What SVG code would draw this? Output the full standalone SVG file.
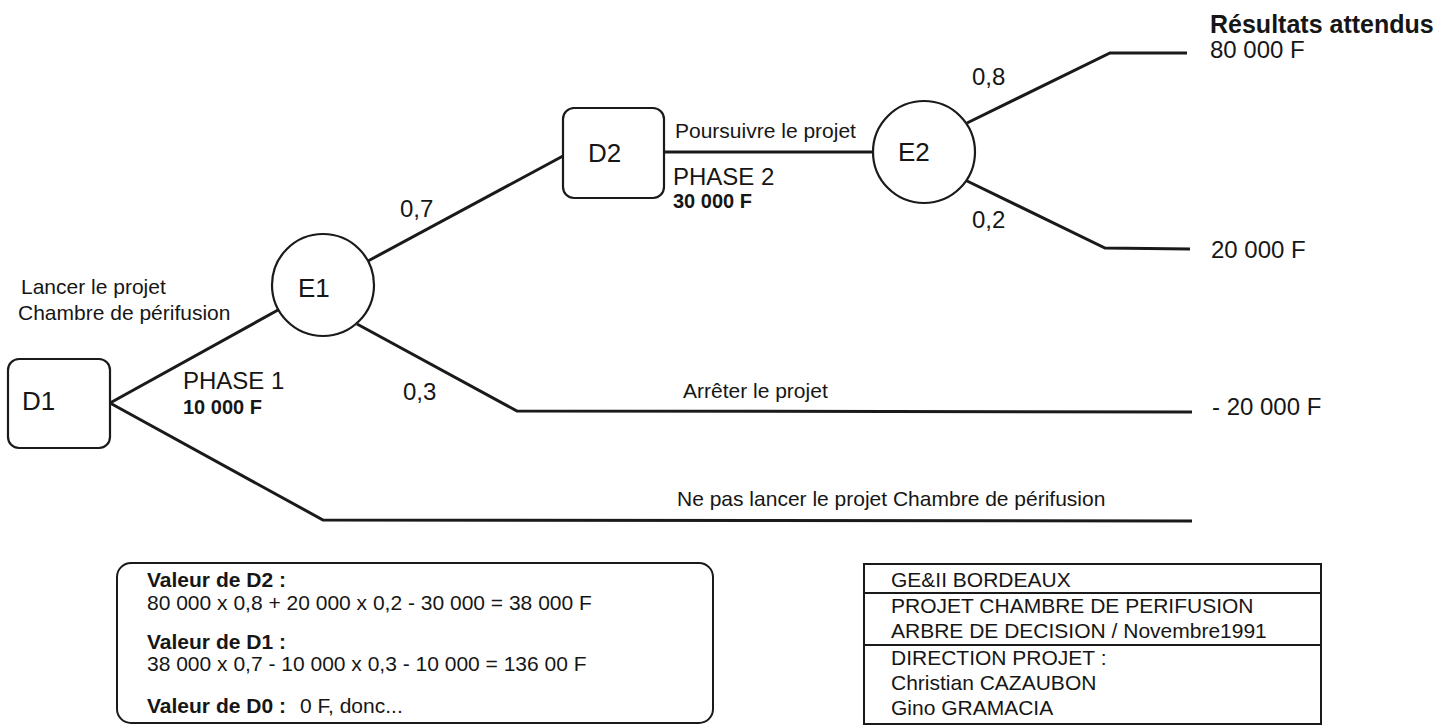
<svg xmlns="http://www.w3.org/2000/svg" width="1451" height="728" viewBox="0 0 1451 728">
<style>
text{font-family:"Liberation Sans",Arial,sans-serif;fill:#161616}
.node{fill:#fff;stroke:#1a1a1a;stroke-width:2.2}
.edge{fill:none;stroke:#1a1a1a;stroke-width:3;stroke-linejoin:miter}
.nl{font-size:26px}
.lb{font-size:21px}
.pr{font-size:24px}
.ph{font-size:24px}
.co{font-size:20px;font-weight:bold}
.b{font-weight:bold}
.box{fill:#fff;stroke:#1a1a1a;stroke-width:2}
</style>
<rect width="1451" height="728" fill="#fff"/>
<g id="connectors">
<path class="edge" d="M110,403 L278,310"/>
<path class="edge" d="M110,403 L323,520 L1192,521"/>
<path class="edge" d="M368,261 L563,156"/>
<path class="edge" d="M357,324 L517,411 L1192,412"/>
<path class="edge" d="M664,152 L873,152"/>
<path class="edge" d="M967,123 L1110,53 L1187,53"/>
<path class="edge" d="M965,180 L1105,248 L1190,249"/>
</g>
<g id="D1">
<rect class="node" x="8" y="359" width="102" height="89" rx="11"/>
<text class="nl" x="22" y="410">D1</text>
</g>
<g id="E1">
<circle class="node" cx="323" cy="285" r="51"/>
<text class="nl" x="298" y="297">E1</text>
</g>
<g id="D2">
<rect class="node" x="563" y="108" width="101" height="90" rx="11"/>
<text class="nl" x="588" y="162">D2</text>
</g>
<g id="E2">
<circle class="node" cx="924" cy="152" r="51"/>
<text class="nl" x="898" y="161">E2</text>
</g>
<g id="labels">
<text class="lb" x="21" y="294">Lancer le projet</text>
<text class="lb" x="18" y="320">Chambre de périfusion</text>
<text class="ph" x="183" y="389">PHASE 1</text>
<text class="co" x="183" y="414">10 000 F</text>
<text class="pr" x="400" y="217">0,7</text>
<text class="pr" x="403" y="400">0,3</text>
<text class="lb" x="675" y="138">Poursuivre le projet</text>
<text class="ph" x="673" y="185">PHASE 2</text>
<text class="co" x="673" y="208">30 000 F</text>
<text class="pr" x="972" y="85">0,8</text>
<text class="pr" x="972" y="228">0,2</text>
<text class="lb" x="683" y="398">Arrêter le projet</text>
<text class="lb" x="677" y="506">Ne pas lancer le projet Chambre de périfusion</text>
<text class="b" x="1210" y="33" style="font-size:25px">Résultats attendus</text>
<text class="pr" x="1210" y="58">80 000 F</text>
<text class="pr" x="1211" y="258">20 000 F</text>
<text class="pr" x="1212" y="415">- 20 000 F</text>
</g>
<g id="calcul">
<rect class="box" x="117" y="563" width="596" height="160" rx="14"/>
<text class="lb b" x="147" y="587">Valeur de D2 :</text>
<text class="lb" x="147" y="610">80 000 x 0,8 + 20 000 x 0,2 - 30 000 = 38 000 F</text>
<text class="lb b" x="147" y="649">Valeur de D1 :</text>
<text class="lb" x="147" y="671">38 000 x 0,7 - 10 000 x 0,3 - 10 000 = 136 00 F</text>
<text class="lb" x="147" y="713"><tspan class="b">Valeur de D0 :</tspan><tspan x="300">0 F, donc...</tspan></text>
</g>
<g id="cartouche">
<rect class="box" x="864" y="564" width="457" height="160"/>
<line class="box" x1="864" y1="593" x2="1321" y2="593"/>
<line class="box" x1="864" y1="645" x2="1321" y2="645"/>
<text class="lb" x="891" y="587">GE&amp;II BORDEAUX</text>
<text class="lb" x="891" y="613">PROJET CHAMBRE DE PERIFUSION</text>
<text class="lb" x="891" y="638">ARBRE DE DECISION / Novembre1991</text>
<text class="lb" x="891" y="665">DIRECTION PROJET :</text>
<text class="lb" x="891" y="690">Christian CAZAUBON</text>
<text class="lb" x="891" y="715">Gino GRAMACIA</text>
</g>
</svg>
